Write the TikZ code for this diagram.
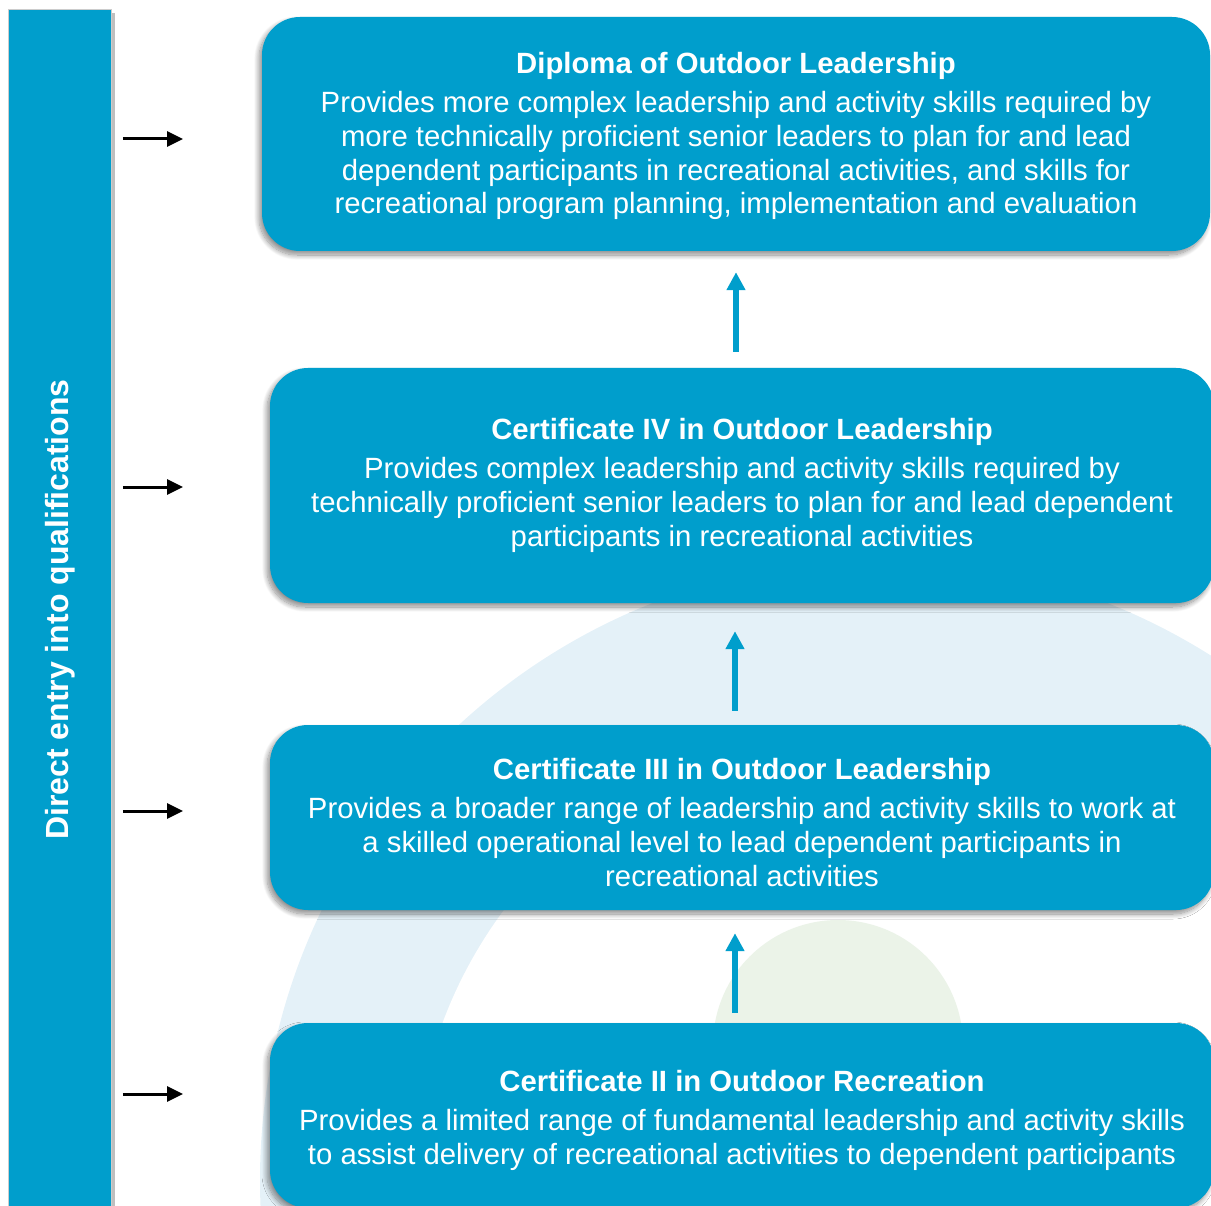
\documentclass[tikz,border=0pt]{standalone}
\usepackage{fontspec}
\setmainfont{Liberation Sans}
\usetikzlibrary{arrows.meta,shadows.blur}
\definecolor{qblue}{RGB}{0,158,204}
\definecolor{bandblue}{RGB}{228,241,248}
\definecolor{softgreen}{RGB}{235,243,232}
\newcommand\toppad[1]{\rule{0pt}{#1}}
\begin{document}
\begin{tikzpicture}[x=1pt,y=-1pt,
  qbox/.style={fill=qblue, rounded corners=38pt, text=white, align=center, inner sep=0pt,
    font=\fontsize{29.3}{33.7}\selectfont,
    blur shadow={shadow xshift=-3pt, shadow yshift=-4pt, shadow blur radius=5pt,
                 shadow blur steps=12, shadow opacity=45}},
  sidebar/.style={fill=qblue, draw=black!20, line width=0.8pt, text=white, inner sep=0pt,
    font=\bfseries\fontsize{32}{38}\selectfont},
  blkarrow/.style={draw=black, line width=3pt, -{Triangle[width=15pt,length=16pt]}},
  uparrow/.style={draw=qblue, line width=5.5pt, -{Triangle[width=18pt,length=18pt]}}
]
\useasboundingbox (0,0) rectangle (1211,1206);
% background decoration
\begin{scope}
  \clip (0,0) rectangle (1211,1206);
  \fill[bandblue] (880,1180) circle[radius=620pt];
  \fill[white] (870,1182) circle[radius=456pt];
  \fill[softgreen] (838,1045) circle[radius=125pt];
  % side bar shadow
  \fill[black!25] (111,13) rectangle (115,1210);
  % side bar
  \node[sidebar, rotate=90, minimum width=1201pt, minimum height=103pt]
    (bar) at (60,609.5) {Direct entry into qualifications};
\end{scope}

% boxes
\node[qbox, minimum width=948pt, minimum height=234pt] (b1) at (736,134)
  {\toppad{25.5pt}{\bfseries Diploma of Outdoor Leadership}\\[5.3pt]
   Provides more complex leadership and activity skills required by\\
   more technically proficient senior leaders to plan for and lead\\
   dependent participants in recreational activities, and skills for\\
   recreational program planning, implementation and evaluation};
\node[qbox, minimum width=944pt, minimum height=235pt] (b2) at (742,485.5)
  {{\bfseries Certificate IV in Outdoor Leadership}\\[5.3pt]
   Provides complex leadership and activity skills required by\\
   technically proficient senior leaders to plan for and lead dependent\\
   participants in recreational activities};
\node[qbox, minimum width=944pt, minimum height=185pt] (b3) at (742,817.5)
  {\toppad{31.5pt}{\bfseries Certificate III in Outdoor Leadership}\\[5.3pt]
   Provides a broader range of leadership and activity skills to work at\\
   a skilled operational level to lead dependent participants in\\
   recreational activities};
\node[qbox, minimum width=944pt, minimum height=185pt] (b4) at (742,1115.5)
  {\toppad{31.5pt}{\bfseries Certificate II in Outdoor Recreation}\\[5.3pt]
   Provides a limited range of fundamental leadership and activity skills\\
   to assist delivery of recreational activities to dependent participants};

% entry arrows
\coordinate (t1) at (183,139);
\coordinate (t2) at (183,487);
\coordinate (t3) at (183,811);
\coordinate (t4) at (183,1094);
\foreach \t in {t1,t2,t3,t4}
  \draw[blkarrow, shorten <=11pt] (bar.south |- \t) -- (\t);

% progression arrows
\draw[uparrow, shorten <=16pt, shorten >=21pt] (b2.north -| b1.south) -- (b1.south);
\draw[uparrow, shorten <=14pt, shorten >=28pt] ([xshift=-7pt]b3.north) -- ([xshift=-7pt]b2.south);
\draw[uparrow, shorten <=10pt, shorten >=23pt] ([xshift=-7pt]b4.north) -- ([xshift=-7pt]b3.south);
\end{tikzpicture}
\end{document}
